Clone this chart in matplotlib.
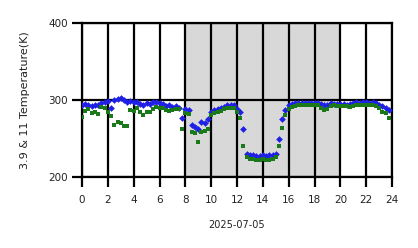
import numpy as np
import matplotlib
matplotlib.use("Agg")
import matplotlib.pyplot as plt

hours = [i * 0.25 for i in range(96)]

blue = [
    # 0-2
    293, 295, 294, 292, 294, 293, 296, 297,
    # 2-4
    299, 289, 300, 301, 302, 300, 297, 299,
    # 4-6
    298, 297, 295, 294, 296, 295, 297, 297,
    # 6-8
    296, 295, 292, 293, 291, 292, 290, 277,
    # 8-10
    288, 287, 268, 265, 262, 272, 270, 275,
    # 10-12
    285, 287, 288, 289, 291, 293, 294, 293,
    # 12-14
    288, 285, 262, 230, 229, 228, 227, 227,
    # 14-16
    228, 227, 228, 229, 230, 250, 275, 287,
    # 16-18
    293, 295, 296, 296, 296, 296, 296, 296,
    # 18-20
    296, 296, 295, 293, 294, 296, 295, 295,
    # 20-22
    295, 295, 294, 295, 296, 297, 296, 297,
    # 22-24
    297, 296, 297, 296, 294, 292, 290, 287,
]

green = [
    # 0-2
    278, 286, 288, 283, 285, 282, 291, 290,
    # 2-4
    284, 279, 267, 271, 270, 266, 266, 287,
    # 4-6
    286, 289, 285, 281, 284, 285, 288, 291,
    # 6-8
    290, 289, 287, 286, 287, 288, 288, 262,
    # 8-10
    283, 282, 258, 257, 245, 258, 260, 262,
    # 10-12
    281, 283, 284, 286, 288, 289, 290, 289,
    # 12-14
    285, 276, 240, 226, 224, 223, 222, 222,
    # 14-16
    223, 222, 222, 224, 226, 240, 263, 280,
    # 16-18
    288, 291, 292, 293, 293, 293, 293, 293,
    # 18-20
    293, 293, 290, 287, 288, 292, 293, 292,
    # 20-22
    292, 292, 292, 291, 292, 293, 293, 294,
    # 22-24
    294, 293, 294, 292, 290, 285, 283, 277,
]

xticks = list(range(0, 25, 2))
yticks = [200, 300, 400]

fig = plt.figure(figsize=(4.18, 2.48), dpi=100)
ax = fig.add_axes([82/418, 1 - 177/248, (392-82)/418, (177-23)/248])

ax.axvspan(8, 20, color="#d8d8d8", zorder=0, lw=0)
for x in xticks:
    ax.axvline(x, color="black", lw=1.6, zorder=1)
for y in yticks:
    ax.axhline(y, color="black", lw=1.6, zorder=1)

ax.plot(hours, blue, ls="none", marker="D", ms=3.4, color="#1f1fe6", mew=0, zorder=3)
ax.plot(hours, green, ls="none", marker="s", ms=3.3, color="#1a7a1a", mew=0, zorder=4)

ax.set_xlim(0, 24)
ax.set_ylim(200, 400)
ax.set_xticks(xticks)
ax.set_yticks(yticks)
for s in ax.spines.values():
    s.set_linewidth(1.6)
ax.tick_params(axis="x", length=7, width=1.6, labelsize=7.5, colors="black",
               labelcolor="#222222", pad=6)
ax.tick_params(axis="y", length=7, width=1.6, labelsize=7.5, colors="black",
               labelcolor="#222222", pad=3)
ax.set_xlabel("2025-07-05", fontsize=7, labelpad=11, color="#222222")
ax.set_ylabel("3.9 & 11 Temperature(K)", fontsize=8, labelpad=13, color="#222222")

fig.savefig("out.png", dpi=100)
